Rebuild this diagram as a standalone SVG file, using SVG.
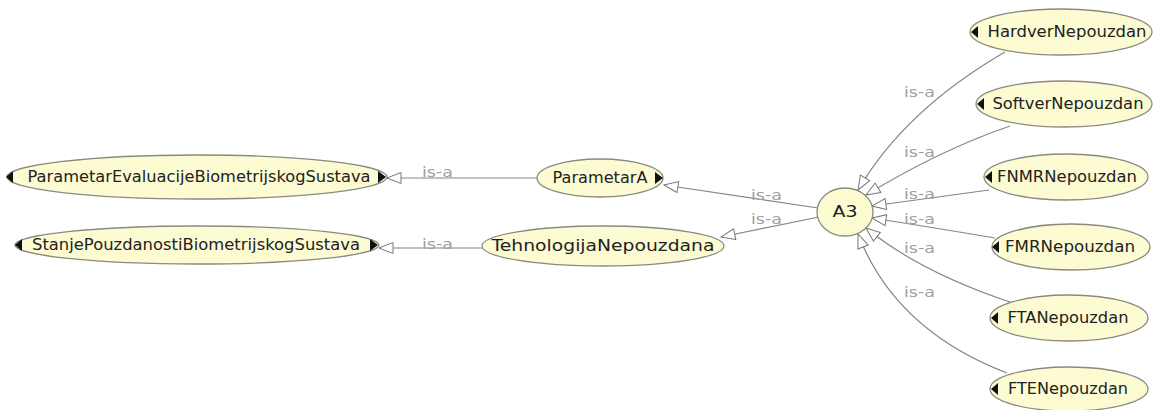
<svg xmlns="http://www.w3.org/2000/svg" width="1156" height="410" viewBox="0 0 1156 410">
<defs>
<marker id="tri" markerUnits="userSpaceOnUse" markerWidth="18" markerHeight="16" refX="15" refY="7" orient="auto">
<path d="M1,1.5 L15,7 L1,12.5 Z" fill="#fff" stroke="#777" stroke-width="1"/>
</marker>
<style>
.n{fill:#fcfbd2;stroke:#8a8a80;stroke-width:1.3}
.t{font-family:"DejaVu Sans",sans-serif;font-size:15px;fill:#222;text-anchor:middle}
.e{fill:none;stroke:#858585;stroke-width:1.2;marker-end:url(#tri)}
.l{font-family:"DejaVu Sans",sans-serif;font-size:14px;fill:#a0a0a0}
.k{fill:#111}
</style>
</defs>
<rect width="1156" height="410" fill="#fff"/>
<g id="connectors">
<path class="e" d="M537,178 L387,178"/>
<path class="e" d="M482,248 L379,248"/>
<path class="e" d="M818,208 L664,185"/>
<path class="e" d="M819,217 L721,237"/>
<path class="e" d="M1005,52 Q905,110 858,190"/>
<path class="e" d="M1010,126 Q940,150 866,195"/>
<path class="e" d="M989,190 Q930,198 872,206"/>
<path class="e" d="M995,238 Q930,227 872,218"/>
<path class="e" d="M1010,302 Q920,272 866,228"/>
<path class="e" d="M1007,373 Q895,330 858,234"/>
<text class="l" x="422" y="177" textLength="31" lengthAdjust="spacingAndGlyphs">is-a</text>
<text class="l" x="422" y="249" textLength="31" lengthAdjust="spacingAndGlyphs">is-a</text>
<text class="l" x="751" y="200" textLength="31" lengthAdjust="spacingAndGlyphs">is-a</text>
<text class="l" x="751" y="224" textLength="31" lengthAdjust="spacingAndGlyphs">is-a</text>
<text class="l" x="904" y="97" textLength="31" lengthAdjust="spacingAndGlyphs">is-a</text>
<text class="l" x="904" y="157" textLength="31" lengthAdjust="spacingAndGlyphs">is-a</text>
<text class="l" x="904" y="199" textLength="31" lengthAdjust="spacingAndGlyphs">is-a</text>
<text class="l" x="904" y="224" textLength="31" lengthAdjust="spacingAndGlyphs">is-a</text>
<text class="l" x="904" y="253" textLength="31" lengthAdjust="spacingAndGlyphs">is-a</text>
<text class="l" x="904" y="297" textLength="31" lengthAdjust="spacingAndGlyphs">is-a</text>
</g>
<g id="ParametarEvaluacijeBiometrijskogSustava">
<ellipse class="n" cx="197" cy="177" rx="190" ry="22"/>
<polygon class="k" points="13,171 6,177 13,183"/>
<polygon class="k" points="378,171 386,177 378,183"/>
<text class="t" x="199" y="182" textLength="343" lengthAdjust="spacingAndGlyphs">ParametarEvaluacijeBiometrijskogSustava</text>
</g>
<g id="StanjePouzdanostiBiometrijskogSustava">
<ellipse class="n" cx="197" cy="245" rx="182" ry="19"/>
<polygon class="k" points="22,239 15,245 22,251"/>
<polygon class="k" points="370,239 378,245 370,251"/>
<text class="t" x="196" y="250" textLength="328" lengthAdjust="spacingAndGlyphs">StanjePouzdanostiBiometrijskogSustava</text>
</g>
<g id="ParametarA">
<ellipse class="n" cx="600" cy="178" rx="63" ry="19"/>
<polygon class="k" points="655,172 663,178 655,184"/>
<text class="t" x="600" y="183" textLength="95" lengthAdjust="spacingAndGlyphs">ParametarA</text>
</g>
<g id="TehnologijaNepouzdana">
<ellipse class="n" cx="603" cy="246" rx="121" ry="20"/>
<text class="t" x="603" y="251" textLength="223" lengthAdjust="spacingAndGlyphs">TehnologijaNepouzdana</text>
</g>
<g id="A3">
<ellipse class="n" cx="845" cy="212" rx="28" ry="24"/>
<text class="t" x="845" y="217" textLength="25" lengthAdjust="spacingAndGlyphs">A3</text>
</g>
<g id="HardverNepouzdan">
<ellipse class="n" cx="1061" cy="32" rx="91" ry="23"/>
<polygon class="k" points="978,26 971,32 978,38"/>
<text class="t" x="1067" y="37" textLength="159" lengthAdjust="spacingAndGlyphs">HardverNepouzdan</text>
</g>
<g id="SoftverNepouzdan">
<ellipse class="n" cx="1064" cy="104" rx="88" ry="23"/>
<polygon class="k" points="984,98 977,104 984,110"/>
<text class="t" x="1068" y="109" textLength="151" lengthAdjust="spacingAndGlyphs">SoftverNepouzdan</text>
</g>
<g id="FNMRNepouzdan">
<ellipse class="n" cx="1066" cy="177" rx="82" ry="23"/>
<polygon class="k" points="992,171 985,177 992,183"/>
<text class="t" x="1067" y="182" textLength="140" lengthAdjust="spacingAndGlyphs">FNMRNepouzdan</text>
</g>
<g id="FMRNepouzdan">
<ellipse class="n" cx="1071" cy="247" rx="79" ry="23"/>
<polygon class="k" points="999,241 992,247 999,253"/>
<text class="t" x="1070" y="252" textLength="130" lengthAdjust="spacingAndGlyphs">FMRNepouzdan</text>
</g>
<g id="FTANepouzdan">
<ellipse class="n" cx="1069" cy="318" rx="79" ry="23"/>
<polygon class="k" points="998,312 991,318 998,324"/>
<text class="t" x="1068" y="323" textLength="121" lengthAdjust="spacingAndGlyphs">FTANepouzdan</text>
</g>
<g id="FTENepouzdan">
<ellipse class="n" cx="1069" cy="389" rx="79" ry="22"/>
<polygon class="k" points="998,383 991,389 998,395"/>
<text class="t" x="1068" y="394" textLength="120" lengthAdjust="spacingAndGlyphs">FTENepouzdan</text>
</g>
</svg>
